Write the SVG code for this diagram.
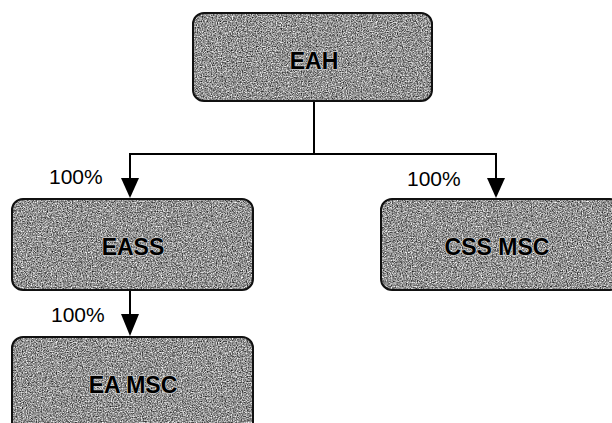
<svg xmlns="http://www.w3.org/2000/svg" width="612" height="423" viewBox="0 0 612 423">
<style>
.tex{fill:#808080;stroke:none}
.node{fill:none;stroke:#111;stroke-width:2}
.lbl{font-family:"Liberation Sans",Arial,sans-serif;font-size:23px;font-weight:bold;fill:#000;text-anchor:middle;stroke:#c8c8c8;stroke-width:1.4;paint-order:stroke}
.pct{font-family:"Liberation Sans",Arial,sans-serif;font-size:21px;fill:#000}
.conn{fill:none;stroke:#000;stroke-width:2}
.head{fill:#000}
</style>
<defs>
<filter id="grain" x="0" y="0" width="100%" height="100%" color-interpolation-filters="sRGB">
<feTurbulence type="fractalNoise" baseFrequency="0.8" numOctaves="2" seed="5" result="n"/>
<feColorMatrix in="n" type="matrix" values="1.3 0 0 0 -0.08  1.3 0 0 0 -0.08  1.3 0 0 0 -0.08  0 0 0 0 1" result="g"/>
<feComposite in="g" in2="SourceAlpha" operator="in"/>
</filter>
</defs>
<rect width="612" height="423" fill="#fff"/>
<g id="connectors">
<path class="conn" d="M314,101 V154"/>
<path class="conn" d="M130,154 H496"/>
<path class="conn" d="M130,153 V180"/>
<path class="head" d="M121,178 L139,178 L130,198 Z"/>
<path class="conn" d="M496,153 V180"/>
<path class="head" d="M487,178 L505,178 L496,198 Z"/>
<path class="conn" d="M130,290 V316"/>
<path class="head" d="M121,314 L139,314 L130,336 Z"/>
<text class="pct" x="49" y="184">100%</text>
<text class="pct" x="407" y="186">100%</text>
<text class="pct" x="51" y="322">100%</text>
</g>
<g id="EAH">
<rect class="tex" x="193" y="13" width="239" height="88" rx="11" filter="url(#grain)"/>
<rect class="node" x="193" y="13" width="239" height="88" rx="11"/>
<text class="lbl" x="314" y="69">EAH</text>
</g>
<g id="EASS">
<rect class="tex" x="12" y="199" width="241" height="91" rx="11" filter="url(#grain)"/>
<rect class="node" x="12" y="199" width="241" height="91" rx="11"/>
<text class="lbl" x="133" y="255">EASS</text>
</g>
<g id="CSS_MSC">
<rect class="tex" x="381" y="199" width="240" height="91" rx="11" filter="url(#grain)"/>
<rect class="node" x="381" y="199" width="240" height="91" rx="11"/>
<text class="lbl" x="497" y="255">CSS MSC</text>
</g>
<g id="EA_MSC">
<rect class="tex" x="12" y="337" width="241" height="100" rx="11" filter="url(#grain)"/>
<rect class="node" x="12" y="337" width="241" height="100" rx="11"/>
<text class="lbl" x="133" y="393">EA MSC</text>
</g>
</svg>
